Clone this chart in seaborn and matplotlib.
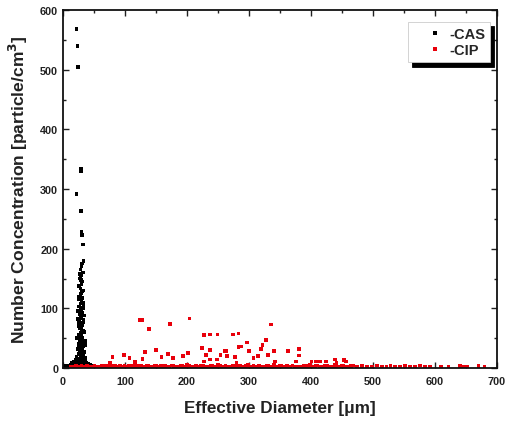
import matplotlib
matplotlib.use("Agg")
import matplotlib.pyplot as plt
import seaborn as sns
import pandas as pd
from matplotlib.ticker import MultipleLocator

# ---------------- data ----------------
cas_x = [22, 23.5, 24, 28.5, 29, 22, 28.5, 30, 31, 32, 33, 31, 30, 28, 32, 29, 27, 31, 30, 26,
         28, 33, 29, 27, 31, 30, 28, 26, 32, 29, 31, 27, 30, 28, 33, 26, 29, 31, 27, 30,
         32, 28, 25, 29, 31, 27, 30, 33, 26, 28, 32, 29, 24, 31, 27, 34, 30, 25, 28, 33,
         22, 30, 36, 27, 24, 32, 20, 29, 35, 26, 18, 31, 38, 23, 28, 15, 34, 40, 20, 25,
         12, 30, 44, 8, 17, 36, 48, 5, 22, 28, 42, 52, 3, 10, 14, 32, 56, 60, 6, 38, 46,
         25, 33, 24, 34, 25, 34, 23, 35, 27, 29, 31, 26, 33, 28, 30, 24, 32, 27, 29, 31,
         35, 25, 31, 28, 26, 33, 30, 27, 34, 29, 23, 32, 36, 21, 26, 30, 19, 37, 28, 33]
cas_y = [568, 540, 505, 334, 330, 292, 263, 229, 223, 207, 179, 175, 170, 165, 160, 155, 150, 145, 140, 137,
         133, 130, 125, 120, 117, 112, 108, 103, 100, 97, 93, 90, 87, 84, 80, 77, 74, 71, 68, 65,
         62, 59, 56, 53, 50, 47, 44, 42, 40, 38, 36, 34, 32, 30, 28, 27, 25, 23, 22, 20,
         19, 18, 17, 16, 15, 14, 13, 12, 12, 11, 10, 10, 9, 9, 8, 8, 7, 7, 6, 6,
         5, 5, 5, 4, 4, 4, 3, 3, 3, 2, 2, 2, 1, 1, 1, 1, 1, 1, 0.5, 0.5, 0.5,
         120, 110, 95, 88, 70, 60, 50, 45, 158, 148, 128, 115, 106, 98, 92, 82, 76, 66, 58, 48,
         39, 35, 31, 26, 24, 21, 16, 13, 11, 9, 8, 7, 6, 5, 4, 3, 2, 2, 1, 1]

cip_x = [124, 128, 139, 173, 204, 227, 237, 249, 274, 283, 336, 297, 327, 322, 319, 283, 288, 300,
         261, 264, 277, 280, 307, 315, 331, 340, 363, 381, 381, 376, 342, 401, 408, 414, 424, 439,
         441, 456, 453, 80, 98, 107, 116, 128, 132, 150, 159, 169, 177, 194, 202, 224, 231, 227,
         237, 248, 254, 263, 76, 75, 237,
         12, 15, 18, 21, 24, 27, 30, 33, 36, 39, 42, 45, 48, 51, 54, 57, 60, 63, 66, 69,
         72, 78, 84, 88, 92, 96, 102, 106, 110, 114, 118, 122, 126, 130, 134, 138, 142, 146, 150, 155,
         160, 165, 170, 175, 180, 185, 190, 196, 200, 206, 210, 215, 220, 226, 232, 238, 244, 250, 256, 262,
         268, 274, 280, 286, 292, 298, 304, 310, 316, 322, 328, 334, 340, 346, 352, 358, 364, 370, 378, 386,
         392, 398, 404, 410, 418, 426, 432, 438, 446, 452, 460, 468, 474, 482, 490, 498, 506, 514, 522, 528,
         536, 544, 552, 560, 568, 576, 584, 592, 610, 622, 640, 646, 652, 670, 680,
         75, 81, 86, 90, 94, 99, 104, 108, 112, 116, 120, 124, 128, 132, 136, 140, 144, 148, 152, 158,
         162, 168, 172, 178, 182, 188, 193, 198, 203, 208, 212, 218, 223, 229, 235, 241, 247, 253, 259, 265,
         271, 277, 283, 289, 295, 301, 307, 313, 319, 325, 331, 337, 343, 349, 355, 361, 367, 374, 382, 389,
         395, 401, 407, 414, 422, 429, 435, 442, 449, 456, 464]
cip_y = [80, 80, 65, 74, 83, 55, 56, 56, 56, 58, 73, 43, 47, 38, 32, 35, 36, 29,
         28, 20, 18, 8, 17, 20, 22, 29, 28, 32, 21, 11, 11, 11, 11, 11, 11, 14,
         8, 11, 13, 19, 22, 17, 10, 15, 27, 30, 18, 24, 17, 20, 25, 34, 22, 11,
         14, 14, 22, 29, 8, 5, 30,
         2, 2, 2, 3, 2, 2, 4, 2, 2, 3, 2, 2, 2, 3, 2, 2, 2, 4, 2, 3,
         2, 2, 3, 2, 4, 2, 2, 3, 2, 2, 4, 2, 3, 2, 2, 4, 2, 2, 3, 2,
         2, 3, 2, 4, 2, 2, 3, 2, 5, 2, 2, 3, 2, 4, 2, 3, 2, 5, 2, 3,
         2, 4, 2, 3, 2, 5, 2, 2, 4, 2, 3, 2, 5, 2, 3, 2, 2, 4, 2, 2,
         3, 5, 2, 4, 2, 3, 2, 5, 2, 3, 2, 4, 2, 3, 2, 2, 4, 2, 2, 3,
         2, 2, 3, 2, 2, 4, 2, 2, 2, 2, 3, 2, 2, 3, 2,
         2.5, 3, 2.5, 2, 2.5, 3, 2.5, 2, 3, 2.5, 3, 2.5, 2, 2.5, 3, 2.5, 2, 3, 2.5, 3,
         2.5, 2, 2.5, 3, 2.5, 2, 3, 2.5, 3, 2.5, 2, 2.5, 3, 2.5, 2, 3, 2.5, 3, 2.5, 2,
         2.5, 3, 2.5, 2, 3, 2.5, 3, 2.5, 2, 2.5, 3, 2.5, 2, 3, 2.5, 3, 2.5, 2, 2.5, 3,
         2.5, 2, 3, 2.5, 3, 2.5, 2, 2.5, 3, 2.5, 3]

series_names = ["-CAS", "-CIP"]
series_colors = ["#000000", "#e8000b"]
x_ticks = [0, 100, 200, 300, 400, 500, 600, 700]
y_ticks = [0, 100, 200, 300, 400, 500, 600]

df = pd.DataFrame({
    "x": cas_x + cip_x,
    "y": cas_y + cip_y,
    "s": [series_names[0]] * len(cas_x) + [series_names[1]] * len(cip_x),
})

# ---------------- plot ----------------
sns.set_theme(style="ticks")
plt.rcParams["font.family"] = ["Liberation Sans", "DejaVu Sans"]
plt.rcParams["font.weight"] = "bold"

fig = plt.figure(figsize=(5.09, 4.27), dpi=100)
ax = fig.add_axes([63 / 509, 1 - 369 / 427, 434 / 509, 358 / 427])

sns.scatterplot(data=df, x="x", y="y", hue="s", palette=series_colors,
                hue_order=series_names, marker="s", s=7, linewidth=0,
                ax=ax, legend=True)

ax.set_xlim(0, 700)
ax.set_ylim(0, 600)
ax.set_xticks(x_ticks)
ax.set_yticks(y_ticks)
ax.xaxis.set_minor_locator(MultipleLocator(50))
ax.yaxis.set_minor_locator(MultipleLocator(50))
ax.tick_params(which="both", direction="in", top=True, right=True, width=1.0,
               labelsize=7.8, colors="#222222")
ax.tick_params(which="major", length=4)
ax.tick_params(which="minor", length=2.5)
ax.tick_params(axis="x", which="major", pad=6)
for lab in ax.get_xticklabels() + ax.get_yticklabels():
    lab.set_fontweight("bold")
for sp in ax.spines.values():
    sp.set_linewidth(1.3)
    sp.set_color("#111111")

ax.set_xlabel("Effective Diameter [\u03bcm]", fontsize=12.3, fontweight="bold",
              labelpad=10, color="#222222")
ax.set_ylabel("Number Concentration [particle/cm$^\\mathbf{3}$]", fontsize=12.6,
              fontweight="bold", labelpad=7, color="#222222")

handles, labels = ax.get_legend_handles_labels()
leg = ax.legend(handles, labels, loc="upper right",
                bbox_to_anchor=(490 / 509, 1 - 23 / 427), bbox_transform=fig.transFigure,
                borderaxespad=0, frameon=True, fancybox=False,
                shadow={"color": "black", "alpha": 1.0, "ox": 3, "oy": -3},
                prop={"weight": "bold", "size": 10.5}, markerscale=1.0,
                handletextpad=-0.54, borderpad=0.35, labelspacing=0.15, handlelength=3.0)
leg.get_frame().set_edgecolor("#cccccc")
leg.get_frame().set_linewidth(0.6)

fig.savefig("out.png", dpi=100)
